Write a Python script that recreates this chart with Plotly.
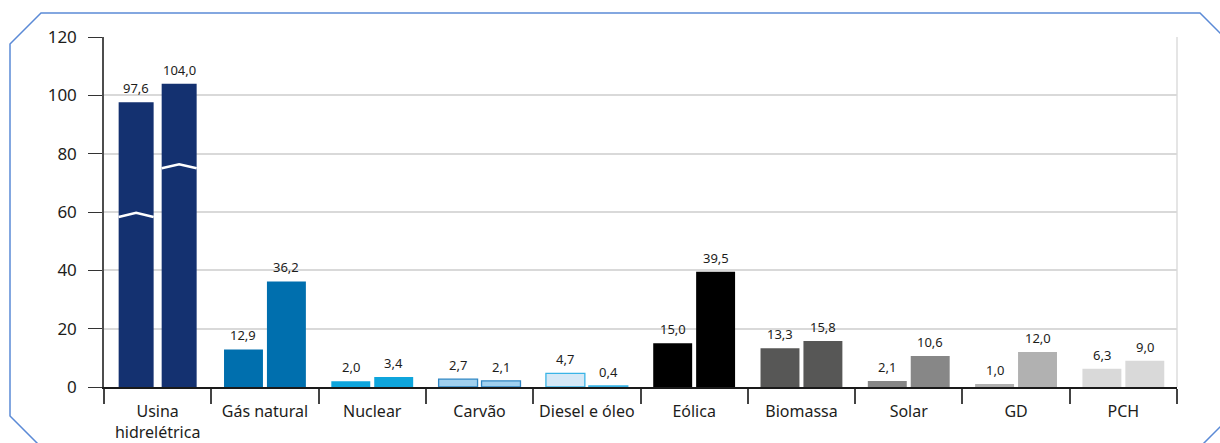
import plotly.graph_objects as go

# ---------------- data ----------------
categories = ["Usina<br>hidrelétrica", "Gás natural", "Nuclear", "Carvão", "Diesel e óleo",
              "Eólica", "Biomassa", "Solar", "GD", "PCH"]
series_a = [97.6, 12.9, 2.0, 2.7, 4.7, 15.0, 13.3, 2.1, 1.0, 6.3]
series_b = [104.0, 36.2, 3.4, 2.1, 0.4, 39.5, 15.8, 10.6, 12.0, 9.0]
y_ticks = [0, 20, 40, 60, 80, 100, 120]
hydro_breaks = [58.3, 75.0]   # axis-break marks drawn on the hydro bars

# ---------------- style ----------------
fill_colors = ["#143170", "#006fae", "#0ea5dc", "#a0d0ef", "#d5e8f6",
               "#000000", "#575756", "#878787", "#b1b1b1", "#d9d9d9"]
line_colors = ["#143170", "#006fae", "#0ea5dc", "#2f86c4", "#3ab4e6",
               "#000000", "#575756", "#878787", "#b1b1b1", "#d9d9d9"]
line_widths = [0, 0, 0, 1.3, 1.3, 0, 0, 0, 0, 0]
bar_w = [0.326] + [0.363] * 9
bar_gap = [0.075] + [0.037] * 9
FONT = "Noto Sans"

W, H = 1220, 443
L, R, T, B = 104, 43, 37, 56
PW, PH = W - L - R, H - T - B

def fmt(v):
    return f"{v:.1f}".replace(".", ",")

idx = list(range(len(categories)))
off_a = [-(w + g / 2) for w, g in zip(bar_w, bar_gap)]
off_b = [g / 2 for g in bar_gap]

fig = go.Figure()
annotations = []
for vals, offs in ((series_a, off_a), (series_b, off_b)):
    fig.add_trace(go.Bar(
        x=idx, y=vals, width=bar_w, offset=offs,
        marker=dict(color=fill_colors, line=dict(color=line_colors, width=line_widths)),
        showlegend=False, hoverinfo="skip",
    ))
    for i, v in enumerate(vals):
        annotations.append(dict(
            x=i + offs[i] + bar_w[i] / 2, y=v, xref="x", yref="y",
            text=fmt(v), showarrow=False, xanchor="center", yanchor="bottom",
            yshift=3, font=dict(family=FONT, size=13, color="#1d1d1b"),
        ))

shapes = []
# axis-break chevrons on hydro bars
for offs, b in zip((off_a, off_b), hydro_breaks):
    x0 = idx[0] + offs[0]
    x1 = x0 + bar_w[0]
    xc = (x0 + x1) / 2
    shapes.append(dict(type="path", xref="x", yref="y",
                       path=f"M {x0},{b} L {xc},{b + 1.4} L {x1},{b}",
                       line=dict(color="white", width=2.5)))

# right border of the plot area
shapes.append(dict(type="line", xref="paper", yref="paper", x0=1, x1=1, y0=0, y1=1,
                   line=dict(color="#dcdcdc", width=1.5), layer="below"))

# chamfered frame around the chart (pixel points converted to paper coords)
def px(x, y):
    return f"{(x - L) / PW},{(H - B - y) / PH}"

frame_pts = [(10, 44), (41, 13), (1200, 13), (1232, 45), (1232, 415), (1190, 457),
             (51, 457), (10, 416)]
path = "M " + " L ".join(px(x, y) for x, y in frame_pts) + " Z"
shapes.append(dict(type="path", xref="paper", yref="paper", path=path,
                   line=dict(color="#5b8ad6", width=1.5)))

fig.update_layout(
    width=W, height=H,
    margin=dict(l=L, r=R, t=T, b=B, pad=0, autoexpand=False),
    plot_bgcolor="white", paper_bgcolor="white",
    barmode="overlay",
    font=dict(family=FONT, color="#1d1d1b"),
    shapes=shapes,
    annotations=annotations,
    xaxis=dict(
        range=[-0.5, len(categories) - 0.5],
        tickvals=idx, ticktext=categories, ticks="",
        tickfont=dict(family=FONT, size=16, color="#1d1d1b"),
        ticklabelstandoff=9, automargin=False,
        showline=True, linecolor="#1a1a1a", linewidth=1.5,
        showgrid=False, zeroline=False,
        minor=dict(tickvals=[i - 0.5 for i in range(len(categories) + 1)],
                   ticks="outside", ticklen=15, tickcolor="#444", tickwidth=1.5,
                   showgrid=False),
        fixedrange=True,
    ),
    yaxis=dict(
        range=[0, 120], tickvals=y_ticks,
        ticks="outside", ticklen=14, tickcolor="#333", tickwidth=1.3,
        tickfont=dict(family=FONT, size=17, color="#1d1d1b"),
        ticklabelstandoff=8, automargin=False,
        showline=True, linecolor="#4d4d4d", linewidth=1.5,
        showgrid=True, gridcolor="#d9d9d9", gridwidth=1.5,
        zeroline=False, fixedrange=True,
    ),
)

fig.write_html(
    "out.html",
    config={"displayModeBar": False},
    post_script="document.body.style.margin='0';document.body.style.overflow='hidden';",
)
